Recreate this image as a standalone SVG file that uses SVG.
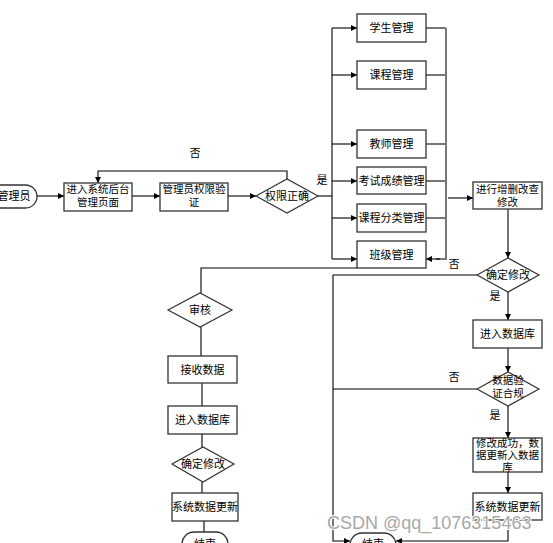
<svg xmlns="http://www.w3.org/2000/svg" width="553" height="543" viewBox="0 0 553 543">
<defs>
<marker id="a" viewBox="0 0 10 10" refX="10" refY="5" markerWidth="9" markerHeight="6" markerUnits="userSpaceOnUse" orient="auto"><path d="M0,0 L10,5 L0,10 z" fill="#000"/></marker>
<style>
.box{fill:#fff;stroke:#333;stroke-width:1.3}
.dia{fill:#fff;stroke:#333;stroke-width:1.2}
.t{font-family:"Noto Sans CJK SC","Liberation Sans",sans-serif;font-size:11px;fill:#000;text-anchor:middle}
.s{font-size:10.5px}
.c{fill:none;stroke:#000;stroke-width:1.1}
.g{fill:none;stroke:#777;stroke-width:2}
.arr{marker-end:url(#a)}
.wm{font-family:"Liberation Sans",sans-serif;font-size:18px;fill:#a8a8a8;stroke:#fff;stroke-width:2;paint-order:stroke}
</style>
</defs>
<rect width="553" height="543" fill="#fff"/>
<g id="connectors">
<path class="c arr" d="M37,196 H64"/>
<path class="c arr" d="M132,196 H160"/>
<path class="c arr" d="M228,196 H256"/>
<path class="c arr" d="M287,179 V171 H98 V183"/>
<path class="c" d="M318,196 H332"/>
<path class="c" d="M332,28 V259"/>
<path class="c arr" d="M332,28 H357"/>
<path class="c arr" d="M332,75 H357"/>
<path class="c arr" d="M332,144 H357"/>
<path class="c arr" d="M332,181 H357"/>
<path class="c arr" d="M332,218 H357"/>
<path class="c arr" d="M332,259 H357"/>
<path class="g" d="M426,28 H446 M426,75 H446 M426,144 H446 M426,181 H446 M426,218 H446 M446,28 V259 H436"/>
<path class="c arr" d="M440,259 H426"/>
<path class="c arr" d="M448,198 H473"/>
<path class="c arr" d="M508,209 V258"/>
<path class="c arr" d="M508,292 V320"/>
<path class="c arr" d="M508,348 V372"/>
<path class="c arr" d="M508,406 V438"/>
<path class="c arr" d="M508,472 V493"/>
<path class="c arr" d="M508,520 V541 H396"/>
<path class="c" d="M477,275 H333 M477,389 H333"/>
<path class="c arr" d="M333,275 V541 H350"/>
<path class="c" d="M357,268 H201 V293"/>
<path class="c" d="M201,327 V356 M202,383 V406 M202,434 V447 M202,482 V493 M204,521 V532"/>
</g>
<g id="start"><rect x="-12" y="185" width="49" height="23" rx="11.5" class="box"/><text class="t" x="14" y="200">管理员</text></g>
<g id="n1"><rect x="64" y="183" width="68" height="28" class="box"/><text class="t s" x="98" y="193">进入系统后台</text><text class="t s" x="98" y="206">管理页面</text></g>
<g id="n2"><rect x="160" y="183" width="68" height="28" class="box"/><text class="t s" x="194" y="193">管理员权限验</text><text class="t s" x="194" y="206">证</text></g>
<g id="d1"><polygon points="256,196 287,179 318,196 287,213" class="dia"/><text class="t" x="287" y="200">权限正确</text></g>
<g id="m1"><rect x="357" y="14" width="69" height="28" class="box"/><text class="t" x="391.5" y="32">学生管理</text></g>
<g id="m2"><rect x="357" y="61" width="69" height="28" class="box"/><text class="t" x="391.5" y="79">课程管理</text></g>
<g id="m3"><rect x="357" y="130" width="69" height="28" class="box"/><text class="t" x="391.5" y="148">教师管理</text></g>
<g id="m4"><rect x="357" y="167" width="69" height="27" class="box"/><text class="t" x="391.5" y="185">考试成绩管理</text></g>
<g id="m5"><rect x="357" y="204" width="69" height="28" class="box"/><text class="t" x="391.5" y="222">课程分类管理</text></g>
<g id="m6"><rect x="357" y="241" width="69" height="27" class="box"/><text class="t" x="391.5" y="259">班级管理</text></g>
<g id="n3"><rect x="473" y="182" width="69" height="27" class="box"/><text class="t s" x="507.5" y="193">进行增删改查</text><text class="t s" x="507.5" y="206">修改</text></g>
<g id="d2"><polygon points="477,275 508,258 539,275 508,292" class="dia"/><text class="t" x="508" y="279">确定修改</text></g>
<g id="n4"><rect x="473" y="320" width="69" height="28" class="box"/><text class="t" x="507.5" y="338">进入数据库</text></g>
<g id="d3"><polygon points="477,389 508,372 539,389 508,406" class="dia"/><text class="t s" x="508" y="384">数据验</text><text class="t s" x="508" y="397">证合规</text></g>
<g id="n5"><rect x="473" y="438" width="69" height="34" class="box"/><text class="t s" x="507.5" y="447">修改成功，数</text><text class="t s" x="507.5" y="459">据更新入数据</text><text class="t s" x="507.5" y="471">库</text></g>
<g id="n6"><rect x="473" y="493" width="69" height="27" class="box"/><text class="t" x="507.5" y="511">系统数据更新</text></g>
<g id="end2"><rect x="350" y="533" width="46" height="24" rx="12" class="box"/><text class="t" x="373" y="548">结束</text></g>
<g id="d4"><polygon points="168,310 200,293 232,310 200,327" class="dia"/><text class="t" x="200" y="314">审核</text></g>
<g id="b1"><rect x="168" y="356" width="69" height="27" class="box"/><text class="t" x="202.5" y="374">接收数据</text></g>
<g id="b2"><rect x="168" y="406" width="69" height="28" class="box"/><text class="t" x="202.5" y="424">进入数据库</text></g>
<g id="d5"><polygon points="172,464 203,447 234,464 203,482" class="dia"/><text class="t" x="203" y="468">确定修改</text></g>
<g id="b3"><rect x="172" y="493" width="66" height="28" class="box"/><text class="t" x="205" y="511">系统数据更新</text></g>
<g id="end1"><rect x="182" y="532" width="46" height="24" rx="12" class="box"/><text class="t" x="205" y="548">结束</text></g>
<g id="labels">
<text class="t" x="195" y="157">否</text>
<text class="t" x="322" y="184">是</text>
<text class="t" x="454" y="268">否</text>
<text class="t" x="495" y="300">是</text>
<text class="t" x="454" y="381">否</text>
<text class="t" x="495" y="419">是</text>
</g>
<text class="wm" x="327" y="529">CSDN @qq_1076315463</text>
</svg>
